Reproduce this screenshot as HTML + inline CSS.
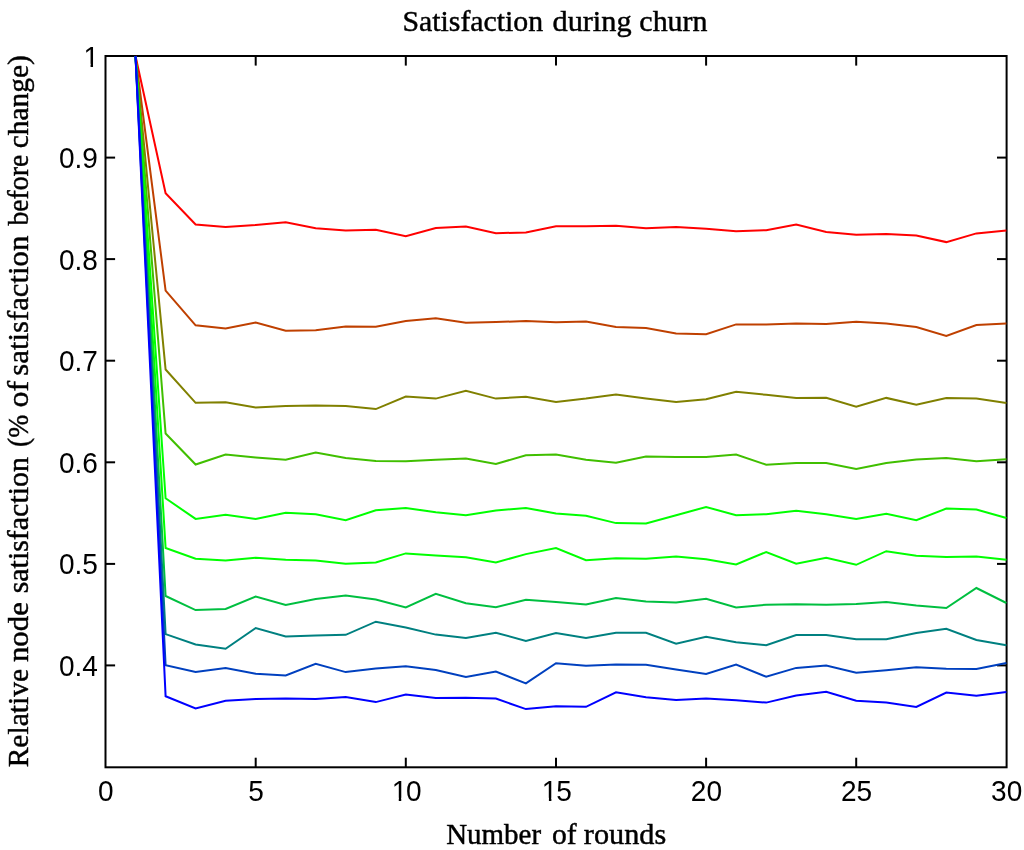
<!DOCTYPE html>
<html><head><meta charset="utf-8"><style>
html,body{margin:0;padding:0;background:#fff;width:1024px;height:850px;overflow:hidden}
svg{display:block}
.tk text{font-family:"Liberation Sans",Arial,sans-serif;font-size:29.5px;fill:#000}
.lb text{font-family:"Liberation Serif","Times New Roman",serif;font-size:30px;fill:#000;stroke:#000;stroke-width:0.45px}
</style></head><body>
<svg width="1024" height="850" viewBox="0 0 1024 850">
<rect x="0" y="0" width="1024" height="850" fill="#fff"/>
<g stroke="#000" stroke-width="2" fill="none">
<rect x="105.5" y="56.0" width="901.1" height="711.3"/>
<line x1="255.7" y1="767.3" x2="255.7" y2="757.7"/>
<line x1="255.7" y1="56.0" x2="255.7" y2="65.6"/>
<line x1="405.8" y1="767.3" x2="405.8" y2="757.7"/>
<line x1="405.8" y1="56.0" x2="405.8" y2="65.6"/>
<line x1="556.0" y1="767.3" x2="556.0" y2="757.7"/>
<line x1="556.0" y1="56.0" x2="556.0" y2="65.6"/>
<line x1="706.1" y1="767.3" x2="706.1" y2="757.7"/>
<line x1="706.1" y1="56.0" x2="706.1" y2="65.6"/>
<line x1="856.2" y1="767.3" x2="856.2" y2="757.7"/>
<line x1="856.2" y1="56.0" x2="856.2" y2="65.6"/>
<line x1="105.5" y1="665.4" x2="115.1" y2="665.4"/>
<line x1="1006.6" y1="665.4" x2="997.0" y2="665.4"/>
<line x1="105.5" y1="563.9" x2="115.1" y2="563.9"/>
<line x1="1006.6" y1="563.9" x2="997.0" y2="563.9"/>
<line x1="105.5" y1="462.3" x2="115.1" y2="462.3"/>
<line x1="1006.6" y1="462.3" x2="997.0" y2="462.3"/>
<line x1="105.5" y1="360.7" x2="115.1" y2="360.7"/>
<line x1="1006.6" y1="360.7" x2="997.0" y2="360.7"/>
<line x1="105.5" y1="259.1" x2="115.1" y2="259.1"/>
<line x1="1006.6" y1="259.1" x2="997.0" y2="259.1"/>
<line x1="105.5" y1="157.6" x2="115.1" y2="157.6"/>
<line x1="1006.6" y1="157.6" x2="997.0" y2="157.6"/>
</g>
<g fill="none" stroke-width="2.0" stroke-linejoin="miter" stroke-miterlimit="4">
<polyline points="135.5,56.0 165.6,193.3 195.6,224.5 225.6,226.9 255.7,225.0 285.7,222.2 315.7,228.3 345.7,230.4 375.8,229.7 405.8,236.2 435.8,228.0 465.9,226.4 495.9,233.2 525.9,232.5 556.0,226.2 586.0,226.2 616.0,225.7 646.0,228.3 676.1,227.1 706.1,228.8 736.1,231.3 766.2,230.2 796.2,224.5 826.2,232.0 856.2,234.8 886.3,234.1 916.3,235.5 946.3,242.1 976.4,233.4 1006.4,230.4" stroke="rgb(255,0,0)"/>
<polyline points="135.5,56.0 165.6,290.6 195.6,325.3 225.6,328.6 255.7,322.5 285.7,330.7 315.7,330.2 345.7,326.5 375.8,326.7 405.8,321.1 435.8,318.3 465.9,322.7 495.9,322.0 525.9,321.1 556.0,322.3 586.0,321.6 616.0,327.0 646.0,328.1 676.1,333.5 706.1,334.2 736.1,324.4 766.2,324.6 796.2,323.4 826.2,324.1 856.2,321.8 886.3,323.4 916.3,327.0 946.3,335.9 976.4,325.1 1006.4,323.4" stroke="rgb(191,64,0)"/>
<polyline points="135.5,56.0 165.6,369.5 195.6,402.8 225.6,402.3 255.7,407.5 285.7,405.9 315.7,405.4 345.7,405.9 375.8,409.1 405.8,396.5 435.8,398.6 465.9,390.9 495.9,398.6 525.9,396.7 556.0,401.9 586.0,398.6 616.0,394.4 646.0,398.4 676.1,401.9 706.1,399.3 736.1,391.8 766.2,394.8 796.2,398.0 826.2,397.7 856.2,406.8 886.3,397.9 916.3,404.7 946.3,398.1 976.4,398.6 1006.4,403.0" stroke="rgb(128,128,0)"/>
<polyline points="135.5,56.0 165.6,433.5 195.6,464.5 225.6,454.6 255.7,457.4 285.7,459.8 315.7,452.5 345.7,458.1 375.8,461.1 405.8,461.2 435.8,459.8 465.9,458.6 495.9,464.0 525.9,455.3 556.0,454.6 586.0,459.8 616.0,462.8 646.0,456.5 676.1,457.0 706.1,457.0 736.1,454.6 766.2,464.7 796.2,463.1 826.2,463.0 856.2,469.1 886.3,463.0 916.3,459.5 946.3,458.1 976.4,461.2 1006.4,459.3" stroke="rgb(64,191,0)"/>
<polyline points="135.5,56.0 165.6,498.3 195.6,518.9 225.6,514.7 255.7,518.9 285.7,512.8 315.7,514.2 345.7,520.3 375.8,510.3 405.8,507.9 435.8,512.3 465.9,515.2 495.9,510.5 525.9,507.9 556.0,513.5 586.0,515.7 616.0,523.1 646.0,523.4 676.1,515.2 706.1,507.0 736.1,515.2 766.2,514.2 796.2,510.7 826.2,514.2 856.2,519.1 886.3,513.7 916.3,520.3 946.3,508.6 976.4,509.5 1006.4,518.0" stroke="rgb(0,255,0)"/>
<polyline points="135.5,56.0 165.6,548.0 195.6,558.7 225.6,560.6 255.7,557.8 285.7,559.7 315.7,560.6 345.7,563.7 375.8,562.5 405.8,553.4 435.8,555.5 465.9,557.3 495.9,562.5 525.9,554.1 556.0,548.0 586.0,560.2 616.0,558.3 646.0,558.7 676.1,556.4 706.1,559.2 736.1,564.4 766.2,552.0 796.2,563.7 826.2,557.8 856.2,564.8 886.3,551.2 916.3,555.7 946.3,556.9 976.4,556.6 1006.4,559.7" stroke="rgb(0,255,0)"/>
<polyline points="135.5,56.0 165.6,596.0 195.6,610.1 225.6,608.9 255.7,596.5 285.7,604.9 315.7,599.1 345.7,595.5 375.8,599.5 405.8,607.5 435.8,593.9 465.9,603.3 495.9,607.3 525.9,599.8 556.0,602.1 586.0,604.5 616.0,597.9 646.0,601.6 676.1,602.6 706.1,598.8 736.1,607.5 766.2,604.7 796.2,604.2 826.2,604.7 856.2,604.0 886.3,601.9 916.3,605.4 946.3,608.0 976.4,588.0 1006.4,603.0" stroke="rgb(0,191,64)"/>
<polyline points="135.5,56.0 165.6,634.1 195.6,644.5 225.6,648.7 255.7,628.0 285.7,636.5 315.7,635.5 345.7,634.8 375.8,621.7 405.8,627.6 435.8,634.6 465.9,638.1 495.9,632.7 525.9,640.9 556.0,633.0 586.0,638.1 616.0,632.7 646.0,632.7 676.1,643.7 706.1,636.7 736.1,642.3 766.2,645.2 796.2,635.0 826.2,635.1 856.2,639.3 886.3,639.3 916.3,633.0 946.3,628.8 976.4,640.0 1006.4,645.2" stroke="rgb(0,128,128)"/>
<polyline points="135.5,56.0 165.6,665.3 195.6,672.1 225.6,668.1 255.7,673.7 285.7,675.4 315.7,663.9 345.7,672.1 375.8,668.4 405.8,666.2 435.8,670.0 465.9,677.0 495.9,671.6 525.9,683.4 556.0,663.2 586.0,665.8 616.0,664.4 646.0,664.8 676.1,669.5 706.1,674.0 736.1,664.6 766.2,676.8 796.2,667.9 826.2,665.5 856.2,672.8 886.3,670.2 916.3,667.2 946.3,668.8 976.4,669.1 1006.4,663.0" stroke="rgb(0,64,191)"/>
<polyline points="135.5,56.0 165.6,696.2 195.6,708.4 225.6,700.7 255.7,699.1 285.7,698.4 315.7,699.1 345.7,697.0 375.8,702.1 405.8,694.6 435.8,698.1 465.9,697.7 495.9,698.6 525.9,709.1 556.0,706.3 586.0,706.8 616.0,692.3 646.0,697.2 676.1,700.0 706.1,698.6 736.1,700.2 766.2,702.6 796.2,695.5 826.2,691.8 856.2,700.7 886.3,702.6 916.3,707.0 946.3,692.5 976.4,695.8 1006.4,692.0" stroke="rgb(0,0,255)"/>
</g>
<g class="tk">
<g transform="translate(97.90,676.02) scale(0.950,1)"><text x="-41.01" y="0">0.4</text></g>
<g transform="translate(97.90,574.45) scale(0.950,1)"><text x="-41.01" y="0">0.5</text></g>
<g transform="translate(97.90,472.88) scale(0.950,1)"><text x="-41.01" y="0">0.6</text></g>
<g transform="translate(97.90,371.31) scale(0.950,1)"><text x="-41.01" y="0">0.7</text></g>
<g transform="translate(97.90,269.74) scale(0.950,1)"><text x="-41.01" y="0">0.8</text></g>
<g transform="translate(97.90,168.17) scale(0.950,1)"><text x="-41.01" y="0">0.9</text></g>
<g transform="translate(97.90,66.60) scale(0.950,1)"><text x="-16.41" y="0"><tspan dx="1.26">1</tspan></text><g fill="#fff"><rect x="-13.78" y="-2.80" width="6.06" height="3.60"/><rect x="-5.12" y="-2.80" width="5.83" height="3.60"/></g></g>
<g transform="translate(105.80,800.60) scale(0.950,1)"><text x="-8.20" y="0">0</text></g>
<g transform="translate(255.95,800.60) scale(0.950,1)"><text x="-8.20" y="0">5</text></g>
<g transform="translate(406.10,800.60) scale(0.950,1)"><text x="-16.41" y="0"><tspan dx="1.26">1</tspan><tspan dx="-1.26">0</tspan></text><g fill="#fff"><rect x="-13.78" y="-2.80" width="6.06" height="3.60"/><rect x="-5.12" y="-2.80" width="5.83" height="3.60"/></g></g>
<g transform="translate(556.25,800.60) scale(0.950,1)"><text x="-16.41" y="0"><tspan dx="1.26">1</tspan><tspan dx="-1.26">5</tspan></text><g fill="#fff"><rect x="-13.78" y="-2.80" width="6.06" height="3.60"/><rect x="-5.12" y="-2.80" width="5.83" height="3.60"/></g></g>
<g transform="translate(706.40,800.60) scale(0.950,1)"><text x="-16.41" y="0">20</text></g>
<g transform="translate(856.55,800.60) scale(0.950,1)"><text x="-16.41" y="0">25</text></g>
<g transform="translate(1006.70,800.60) scale(0.950,1)"><text x="-16.41" y="0">30</text></g>
</g>
<g class="lb">
<text x="402.41" y="30.70" textLength="140.75" lengthAdjust="spacingAndGlyphs">Satisfaction</text>
<text x="552.51" y="30.70" textLength="79.07" lengthAdjust="spacingAndGlyphs">during</text>
<text x="639.36" y="30.70" textLength="68.09" lengthAdjust="spacingAndGlyphs">churn</text>
<text x="446.17" y="844.20" textLength="94.89" lengthAdjust="spacingAndGlyphs">Number</text>
<text x="551.97" y="844.20" textLength="24.63" lengthAdjust="spacingAndGlyphs">of</text>
<text x="583.89" y="844.20" textLength="82.30" lengthAdjust="spacingAndGlyphs">rounds</text>
<g transform="translate(27.90,0) rotate(-90)"><text x="-767.35" y="0.00" textLength="98.48" lengthAdjust="spacingAndGlyphs">Relative</text><text x="-662.11" y="0.00" textLength="59.98" lengthAdjust="spacingAndGlyphs">node</text><text x="-593.33" y="0.00" textLength="136.28" lengthAdjust="spacingAndGlyphs">satisfaction</text><text x="-447.12" y="0.00" textLength="32.37" lengthAdjust="spacingAndGlyphs">(%</text><text x="-407.42" y="0.00" textLength="26.62" lengthAdjust="spacingAndGlyphs">of</text><text x="-375.66" y="0.00" textLength="139.93" lengthAdjust="spacingAndGlyphs">satisfaction</text><text x="-225.60" y="0.00" textLength="70.86" lengthAdjust="spacingAndGlyphs">before</text><text x="-148.32" y="0.00" textLength="93.11" lengthAdjust="spacingAndGlyphs">change)</text></g>
</g>
</svg>
</body></html>
